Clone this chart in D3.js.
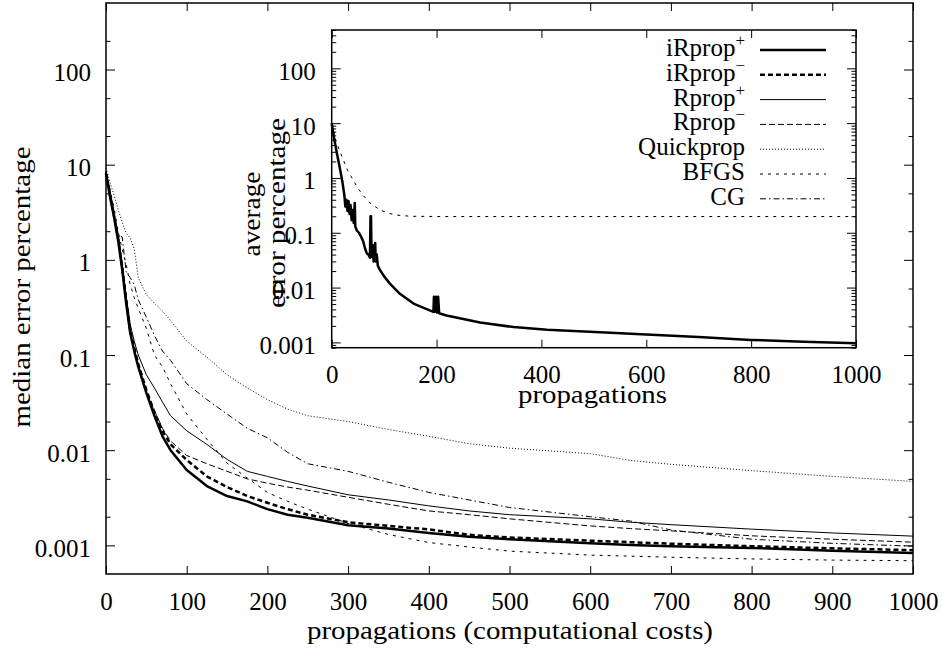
<!DOCTYPE html>
<html>
<head>
<meta charset="utf-8">
<script src="https://d3js.org/d3.v7.min.js"></script>
<style>
  body { margin: 0; background: #fff; }
  svg text { font-family: 'Liberation Serif' !important; }
</style>
</head>
<body>
<svg id="chart" width="942" height="649"></svg>
<script>
// values (median error percentage vs propagations)
const steps = [0, 5, 10, 15, 20, 25, 30, 35, 40, 50, 60, 70, 80, 100, 125, 150, 175, 200, 225, 250,
  300, 350, 400, 450, 500, 600, 650, 700, 800, 900, 1000];

const iRpropPlus = [8.1, 4.6, 2.8, 1.6, 0.8, 0.35, 0.17, 0.11, 0.075, 0.04, 0.023, 0.014, 0.01, 0.0062,
  0.0042, 0.0033, 0.0029, 0.0024, 0.0021, 0.00195, 0.00163, 0.0015, 0.00135, 0.00123, 0.00116,
  0.00105, 0.00101, 0.00098, 0.00094, 0.00088, 0.00083];
const iRpropMinus = [8.0, 4.8, 2.9, 1.7, 0.85, 0.38, 0.18, 0.12, 0.08, 0.043, 0.025, 0.016, 0.0115, 0.0079,
  0.0053, 0.0041, 0.0033, 0.0028, 0.0024, 0.0021, 0.00175, 0.0016, 0.00147, 0.00129, 0.00121,
  0.00112, 0.00108, 0.00104, 0.00098, 0.00093, 0.00089];
const rpropPlus = [8.3, 5.0, 3.0, 1.8, 0.95, 0.42, 0.21, 0.14, 0.1, 0.062, 0.045, 0.032, 0.023, 0.016,
  0.0115, 0.008, 0.006, 0.0053, 0.0047, 0.0042, 0.0034, 0.003, 0.0026, 0.0023, 0.0021,
  0.0019, 0.00175, 0.00165, 0.00148, 0.00135, 0.00125];
const rpropMinus = [8.2, 4.7, 2.8, 1.65, 0.82, 0.36, 0.175, 0.115, 0.078, 0.042, 0.026, 0.017, 0.0125, 0.0088,
  0.0072, 0.006, 0.005, 0.0045, 0.0041, 0.0038, 0.0032, 0.0027, 0.0023, 0.0021, 0.0019,
  0.0016, 0.0015, 0.00142, 0.00126, 0.00116, 0.00108];
const quickprop = [9.2, 6.5, 4.8, 3.4, 2.5, 1.9, 1.7, 1.3, 0.65, 0.43, 0.35, 0.29, 0.23, 0.14,
  0.095, 0.062, 0.045, 0.034, 0.027, 0.023, 0.02, 0.0165, 0.014, 0.0117, 0.0105,
  0.0092, 0.0078, 0.0071, 0.0061, 0.0053, 0.0047];
const bfgs = [8.5, 5.5, 3.5, 2.0, 1.3, 0.9, 0.55, 0.4, 0.31, 0.19, 0.1, 0.075, 0.05, 0.024,
  0.013, 0.0073, 0.0051, 0.0036, 0.0029, 0.0024, 0.0017, 0.0013, 0.00107, 0.00096, 0.00087,
  0.00079, 0.00077, 0.00075, 0.00072, 0.0007, 0.00069];
const cg = [8.5, 5.4, 3.0, 1.84, 1.75, 0.75, 0.65, 0.55, 0.38, 0.25, 0.16, 0.11, 0.088, 0.05,
  0.034, 0.024, 0.017, 0.0135, 0.0095, 0.0072, 0.006, 0.0046, 0.0036, 0.003, 0.0025,
  0.002, 0.0018, 0.00145, 0.00116, 0.00105, 0.00098];

// inset: average error percentage
const insetSteps = [0, 5, 10, 15, 20, 24, 26, 28, 30, 32, 34, 36, 38, 40, 42, 44, 45, 48, 52, 56,
  60, 64, 67, 70, 73, 74, 75, 76, 78, 80, 83, 84, 86, 88, 92, 100, 111, 130, 156, 188,
  194, 195, 197, 199, 201, 203, 205, 219, 283, 347, 411, 512, 600, 700, 799, 900, 1000];
const insetAverage = [10, 5, 2.8, 1.6, 0.9, 0.5, 0.3, 0.4, 0.25, 0.38, 0.22, 0.32, 0.17, 0.26, 0.15, 0.35, 0.13, 0.11, 0.1, 0.085,
  0.07, 0.05, 0.042, 0.04, 0.035, 0.2, 0.2, 0.036, 0.06, 0.03, 0.065, 0.03, 0.04, 0.025, 0.021, 0.016, 0.0118, 0.0077, 0.0051, 0.0038,
  0.0036, 0.0068, 0.0036, 0.0068, 0.0035, 0.0068, 0.0034, 0.0031, 0.0023, 0.0019, 0.0017, 0.00153, 0.0014, 0.00125, 0.00111, 0.00103, 0.00096];
const insetBfgsSteps = [0, 5, 10, 20, 30, 40, 50, 60, 73, 92, 110, 124, 150, 200, 1000];
const insetBfgs = [10, 6, 4.2, 2.4, 1.4, 0.95, 0.65, 0.48, 0.35, 0.26, 0.225, 0.21, 0.2, 0.198, 0.198];

// ticks and labels
const xTicks = [0, 100, 200, 300, 400, 500, 600, 700, 800, 900, 1000];
const insetXTicks = [0, 200, 400, 600, 800, 1000];
const yMajor = [0.001, 0.01, 0.1, 1, 10, 100];
const yMinor = [0.002, 0.005, 0.02, 0.05, 0.2, 0.5, 2, 5, 20, 50, 200];
const legendBase = ['iRprop', 'iRprop', 'Rprop', 'Rprop', 'Quickprop', 'BFGS', 'CG'];
const legendSup = ['+', '\u2212', '+', '\u2212', '', '', ''];

const series = [iRpropPlus, iRpropMinus, rpropPlus, rpropMinus, quickprop, bfgs, cg];
const lineStyles = [
  {w: 2.5, dash: null},
  {w: 2.5, dash: '5,3'},
  {w: 1, dash: null},
  {w: 1, dash: '6,3'},
  {w: 1, dash: '1,2'},
  {w: 1, dash: '3,5'},
  {w: 1, dash: '6,3,1.5,3'}
];

const svg = d3.select('#chart');

function styleAxis(g) {
  g.select('.domain').remove();
  g.selectAll('line').attr('stroke', '#000').attr('stroke-width', 1);
  g.attr('font-family', 'Liberation Serif').attr('font-size', 25);
  g.selectAll('text').attr('fill', '#000');
}

function drawFrame(box) {
  svg.append('rect')
    .attr('x', box.left)
    .attr('y', box.top)
    .attr('width', box.right - box.left)
    .attr('height', box.bottom - box.top)
    .style('fill', 'none')
    .style('stroke', '#000')
    .style('stroke-width', 1.5);
}

function drawAxes(box, xs, ys, xVals, majors, minors, pad) {
  const noLabel = () => '';
  svg.append('g').attr('transform', `translate(0,${box.bottom})`)
    .call(d3.axisBottom(xs).tickValues(xVals).tickSize(-8).tickPadding(18).tickFormat(d3.format('d')))
    .call(styleAxis);
  svg.append('g').attr('transform', `translate(0,${box.top})`)
    .call(d3.axisTop(xs).tickValues(xVals).tickSize(-8).tickFormat(noLabel))
    .call(styleAxis);

  svg.append('g').attr('transform', `translate(${box.left},0)`)
    .call(d3.axisLeft(ys).tickValues(majors).tickSize(-9).tickPadding(pad).tickFormat(d => String(d)))
    .call(styleAxis)
    .selectAll('text').attr('dy', '0.44em');
  svg.append('g').attr('transform', `translate(${box.left},0)`)
    .call(d3.axisLeft(ys).tickValues(minors).tickSize(-4.5).tickFormat(noLabel))
    .call(styleAxis);
  svg.append('g').attr('transform', `translate(${box.right},0)`)
    .call(d3.axisRight(ys).tickValues(majors).tickSize(-9).tickFormat(noLabel))
    .call(styleAxis);
  svg.append('g').attr('transform', `translate(${box.right},0)`)
    .call(d3.axisRight(ys).tickValues(minors).tickSize(-4.5).tickFormat(noLabel))
    .call(styleAxis);
}

function addLabel(text, x, y, len, rotate) {
  svg.append('text')
    .attr('transform', `translate(${x},${y})` + (rotate ? ' rotate(-90)' : ''))
    .attr('text-anchor', 'middle')
    .attr('font-family', 'Liberation Serif')
    .attr('font-size', 25)
    .attr('textLength', len)
    .attr('lengthAdjust', 'spacingAndGlyphs')
    .text(text);
}

// ---- main plot ----
const main = {left: 106, right: 913, top: 3, bottom: 574};
const x = d3.scaleLinear().domain([0, 1000]).range([main.left, main.right]);
const y = d3.scaleLog().domain([0.0005, 500]).range([main.bottom, main.top]);

drawAxes(main, x, y, xTicks, yMajor, yMinor, 15);

const line = d3.line()
  .x((d, i) => x(steps[i]))
  .y(d => y(d));

series.forEach((s, i) => {
  svg.append('path')
    .attr('class', 'series')
    .attr('d', line(s))
    .style('fill', 'none')
    .style('stroke', '#000')
    .style('stroke-width', lineStyles[i].w)
    .style('stroke-dasharray', lineStyles[i].dash)
    .style('stroke-linejoin', 'round');
});

drawFrame(main);
addLabel('propagations (computational costs)', 510, 639, 406, false);
addLabel('median error percentage', 30, 287, 281, true);

// ---- inset ----
const inset = {left: 331.7, right: 856, top: 30, bottom: 347.7};
const xi = d3.scaleLinear().domain([0, 1000]).range([inset.left, inset.right]);
const yi = d3.scaleLog().domain([0.0008, 500]).range([inset.bottom, inset.top]);
const insetMinor = yi.ticks().filter(v => Math.abs(Math.log10(v) - Math.round(Math.log10(v))) > 1e-6);

drawAxes(inset, xi, yi, insetXTicks, yMajor, insetMinor, 16);

svg.append('path')
  .attr('d', d3.line().x((d, i) => xi(insetBfgsSteps[i])).y(d => yi(d))(insetBfgs))
  .style('fill', 'none')
  .style('stroke', '#000')
  .style('stroke-width', 1)
  .style('stroke-dasharray', lineStyles[5].dash);

svg.append('path')
  .attr('d', d3.line().x((d, i) => xi(insetSteps[i])).y(d => yi(d))(insetAverage))
  .style('fill', 'none')
  .style('stroke', '#000')
  .style('stroke-width', 2.5)
  .style('stroke-linejoin', 'round');

drawFrame(inset);
addLabel('propagations', 592.5, 403, 149, false);
addLabel('average', 260, 214, 85, true);
addLabel('error percentage', 285, 213, 190, true);

// ---- legend ----
const legend = svg.append('g').attr('id', 'legend')
  .attr('font-family', 'Liberation Serif')
  .attr('font-size', 25);
legendBase.forEach((name, i) => {
  const rowY = 50 + i * 24.8;
  const t = legend.append('text')
    .attr('x', 745)
    .attr('y', rowY + 6)
    .attr('text-anchor', 'end')
    .text(name);
  if (legendSup[i]) {
    t.append('tspan')
      .attr('dy', -10)
      .attr('font-size', 17)
      .text(legendSup[i]);
  }
  legend.append('line')
    .attr('x1', 760)
    .attr('x2', 826)
    .attr('y1', rowY)
    .attr('y2', rowY)
    .style('stroke', '#000')
    .style('stroke-width', lineStyles[i].w)
    .style('stroke-dasharray', lineStyles[i].dash);
});
</script>
</body>
</html>
